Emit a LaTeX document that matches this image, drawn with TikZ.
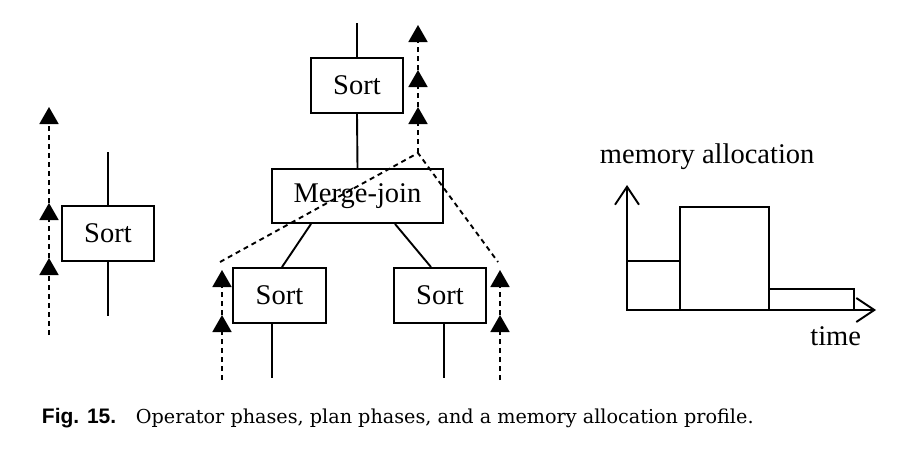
\documentclass[tikz,border=0pt]{standalone}
\usepackage{fontspec}
\setmainfont{Liberation Serif}
\newfontfamily\capserif{DejaVu Serif}
\newfontfamily\capsans{Liberation Sans}
\usetikzlibrary{arrows.meta,calc}
\begin{document}
\begin{tikzpicture}[x=1pt,y=-1pt,
  line width=1.9pt,
  opbox/.style={draw,rectangle,inner sep=0pt,font=\fontsize{28.5}{32}\selectfont},
  phase/.style={dash pattern=on 5pt off 4pt},
  upa/.style={phase,-{Triangle[length=17pt,width=19pt]}},
  barb/.style={-{Straight Barb[length=18pt,width=24pt]}},
  lbl/.style={inner sep=0pt,font=\fontsize{28.5}{32}\selectfont}]
\useasboundingbox (0,0) rectangle (914,450);
% left operator
\node[opbox,minimum width=92pt,minimum height=55pt] (L) at (108,233.5) {Sort};
\coordinate (Ltop) at (108,152);
\coordinate (Lbot) at (108,316);
\draw (Ltop) -- (L.north);
\draw (L.south) -- (Lbot);
\coordinate (a0) at (49,335);
\coordinate (a1) at (49,258);
\coordinate (a2) at (49,203);
\coordinate (a3) at (49,107);
\draw[upa] (a0) -- (a1);
\draw[upa] (a1) -- (a2);
\draw[upa] (a2) -- (a3);
% plan
\node[opbox,minimum width=92pt,minimum height=55pt] (T) at (357,85.5) {Sort};
\node[opbox,minimum width=171pt,minimum height=54pt] (MJ) at (357.5,196) {Merge-join};
\node[opbox,minimum width=93pt,minimum height=55pt] (S1) at (279.5,295.5) {Sort};
\node[opbox,minimum width=92pt,minimum height=55pt] (S2) at (440,295.5) {Sort};
\coordinate (Ttop) at (357,23);
\draw (Ttop) -- (T.north);
\draw (T.south) -- (MJ.north);
\draw ([xshift=2.5pt]S1.north) -- ([xshift=-46.5pt]MJ.south);
\draw ([xshift=-9pt]S2.north) -- ([xshift=37.5pt]MJ.south);
\coordinate (S1b) at (272,378);
\coordinate (S2b) at (444,378);
\draw ([xshift=-7.5pt]S1.south) -- (S1b);
\draw ([xshift=4pt]S2.south) -- (S2b);
% plan phases
\coordinate (apex) at (418,153);
\coordinate (t1) at (418,107);
\coordinate (t2) at (418,70);
\coordinate (t3) at (418,25);
\coordinate (dl) at (220,262);
\coordinate (dr) at (498,262);
\draw[upa] (apex) -- (t1);
\draw[upa] (t1) -- (t2);
\draw[upa] (t2) -- (t3);
\draw[phase] (dl) -- (apex) -- (dr);
\coordinate (l0) at (222,380);
\coordinate (l1) at (222,315);
\coordinate (l2) at (222,270);
\draw[upa] (l0) -- (l1);
\draw[upa] (l1) -- (l2);
\coordinate (r0) at (500,380);
\coordinate (r1) at (500,315);
\coordinate (r2) at (500,270);
\draw[upa] (r0) -- (r1);
\draw[upa] (r1) -- (r2);
% memory allocation profile
\coordinate (O) at (627,310);
\coordinate (Ytop) at (627,185);
\coordinate (Xend) at (876,310);
\draw[barb] (O) -- (Ytop);
\draw[barb] (O) -- (Xend);
\draw (O) rectangle (680,261);
\draw (680,310) rectangle (769,207);
\draw (769,310) rectangle (854,289);
\node[lbl,anchor=base west] (ml) at (599,163) {memory allocation};
\node[lbl,anchor=base east] (tm) at (862,345) {time};
% caption
\node[inner sep=0pt,anchor=base west,font=\capsans\bfseries\fontsize{21}{24}\selectfont] (fig) at (41,423) {Fig. 15.};
\node[inner sep=0pt,anchor=base west,font=\capserif\fontsize{19.2}{22}\selectfont] (cap) at (135,423) {Operator phases, plan phases, and a memory allocation profile.};
\end{tikzpicture}
\end{document}
